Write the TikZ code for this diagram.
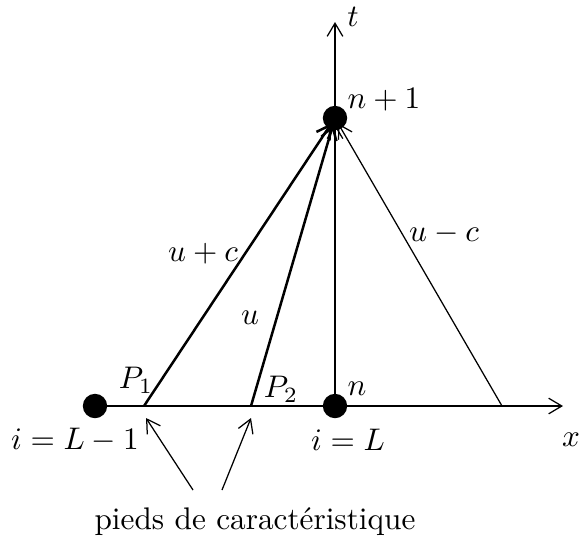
\documentclass[tikz,border=0pt]{standalone}
\usepackage{amsmath,amssymb}
\usetikzlibrary{calc,positioning,arrows.meta}

\begin{document}
\begin{tikzpicture}[x=0.32pt,y=-0.32pt,
    dot/.style={circle,fill,inner sep=0pt,minimum size=7.8pt},
    tip/.style={-{Straight Barb[length=4.2pt,width=5pt]}},
    lab/.style={inner sep=0pt}]
  \useasboundingbox (0,0) rectangle (580,550);
  % grid points
  \node[dot] (top) at (335,118) {};
  \node[dot] (left) at (95,406) {};
  \node[dot] (mid) at (335,406) {};
  \coordinate (p1) at (144,406);
  \coordinate (p2) at (251,406);
  \coordinate (q) at (502,406);
  \coordinate (xend) at (563,406);
  \coordinate (tend) at (335,22);
  % axes
  \draw[tip] (left.center) -- (xend);
  \draw[tip] (top.center) -- (tend);
  % characteristics
  \draw[tip,line width=0.8pt,shorten >=2pt] (p1) -- (top.center);
  \draw[tip,line width=0.8pt,shorten >=2pt] (p2) -- (top.center);
  \draw[tip,shorten >=2pt] (q) -- (top.center);
  \draw[tip,shorten >=2pt] (mid.center) -- (top.center);
  % labels
  \node[lab] (tl) at (353,17) {$t$};
  \node[lab] (xl) at (571,440) {$x$};
  \node[lab] (np1) at (384,100) {$n+1$};
  \node[lab] (nl) at (357,389) {$n$};
  \node[lab] (upc) at (203,254) {$u+c$};
  \node[lab] (ul) at (250,318) {$u$};
  \node[lab] (umc) at (444,234) {$u-c$};
  \node[lab] (P1) at (136,380) {$P_1$};
  \node[lab] (P2) at (281,389) {$P_2$};
  \node[lab] (iLm) at (75,440) {$i=L-1$};
  \node[lab] (iL) at (348,440) {$i=L$};
  \node[lab] (pieds) at (255,522) {pieds de caract\'eristique};
  % pointers to the feet
  \draw[tip] (193,490) -- ($(p1)+(2,12)$);
  \draw[tip] (222,490) -- ($(p2)+(0,12)$);
\end{tikzpicture}
\end{document}
